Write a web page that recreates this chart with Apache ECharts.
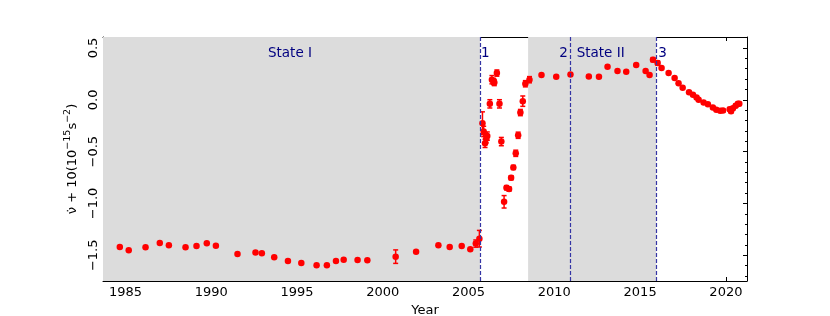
<!DOCTYPE html>
<html><head><meta charset="utf-8">
<script src="https://cdn.jsdelivr.net/npm/echarts@6/dist/echarts.min.js"></script>
<style>html,body{margin:0;padding:0;background:#fff}#c{width:830px;height:316px}</style>
</head><body><div id="c"></div>
<script>
// ---- data ----
const years = [
  1984.67,1985.19,1986.17,1987.00,1987.53,1988.50,1989.14,1989.74,1990.27,1991.53,
  1992.58,1992.95,1993.67,1994.47,1995.25,1996.14,1996.74,1997.27,1997.72,1998.53,
  1999.10,2000.75,2001.94,2003.24,2003.90,2004.60,2005.10,2005.42,2005.63,
  2005.81,2005.88,2005.96,2006.03,2006.09,2006.24,2006.36,2006.45,2006.50,2006.65,
  2006.80,2006.91,2007.07,2007.21,2007.36,2007.48,2007.61,2007.75,2007.89,2008.02,
  2008.16,2008.31,2008.55,2009.25,2010.11,2010.94,2012.01,2012.60,2013.10,2013.68,
  2014.19,2014.77,2015.32,2015.55,2015.75,2016.02,2016.25,2016.66,2017.01,2017.24,
  2017.48,2017.85,2018.08,2018.29,2018.41,2018.70,2018.95,2019.24,2019.44,2019.67,
  2019.83,2020.22,2020.30,2020.41,2020.57,2020.70,2020.78
];
const values = [
  -1.420,-1.452,-1.423,-1.381,-1.403,-1.423,-1.410,-1.384,-1.407,-1.487,
  -1.474,-1.481,-1.519,-1.555,-1.574,-1.597,-1.597,-1.555,-1.542,-1.545,
  -1.548,-1.513,-1.465,-1.403,-1.420,-1.410,-1.442,-1.387,-1.340,
  -0.226,-0.305,-0.420,-0.375,-0.350,-0.039,0.194,0.177,0.167,0.258,
  -0.039,-0.403,-0.984,-0.848,-0.861,-0.752,-0.652,-0.516,-0.342,-0.123,
  -0.013,0.155,0.194,0.239,0.223,0.245,0.226,0.223,0.319,0.277,
  0.271,0.335,0.277,0.239,0.387,0.355,0.306,0.258,0.210,0.161,
  0.116,0.074,0.048,0.023,0.000,-0.026,-0.042,-0.074,-0.097,-0.106,
  -0.103,-0.090,-0.110,-0.081,-0.058,-0.039,-0.039
];
const errors = [
  0,0,0,0,0,0,0,0,0,0,
  0,0,0,0,0,0,0,0,0,0,
  0,0.065,0,0,0,0,0,0.035,0.08,
  0.11,0.05,0.04,0.04,0.04,0.04,0.04,0.03,0.03,0.03,
  0.04,0.04,0.06,0.02,0.02,0.02,0.02,0.03,0.03,0.03,
  0.05,0.03,0.03,0.01,0,0,0,0,0,0,
  0,0,0,0,0.02,0.02,0,0,0,0,
  0,0,0,0,0,0,0,0,0,0.015,
  0.015,0.015,0.015,0.015,0.015,0.015,0.015
];
const xTicks = [1985,1990,1995,2000,2005,2010,2015,2020];
const yTicks = [-1.5,-1.0,-0.5,0.0,0.5];
const yMinorTicks = [-1.7,-1.6,-1.4,-1.3,-1.2,-1.1,-0.9,-0.8,-0.7,-0.6,-0.4,-0.3,-0.2,-0.1,0.1,0.2,0.3,0.4,0.6];
const shadedSpans = [[1983.69, 2005.67],[2008.47, 2015.94]];
const eventYears = [2005.67, 2010.90, 2015.94];
const annotationTexts = ['State I','1','2','State II','3'];
const annotationX = [1994.59, 2005.98, 2010.53, 2012.70, 2016.30];
const annotationY = 0.45;

// ---- chart ----
const FONT = 'DejaVu Sans';
const X_MIN = 1983.69, X_MAX = 2021.23, Y_MIN = -1.748, Y_MAX = 0.606;
const fmtY = v => (v < 0 ? '\u2212' : '') + Math.abs(v).toFixed(1);

const baseX = {
  type:'value', min:X_MIN, max:X_MAX, splitLine:{show:false},
  axisLine:{show:true, onZero:false, lineStyle:{color:'#000', width:1}},
  axisTick:{show:true, inside:true, length:4, customValues:xTicks, lineStyle:{color:'#000'}},
};
const baseY = {
  type:'value', min:Y_MIN, max:Y_MAX, splitLine:{show:false},
  axisLine:{show:true, onZero:false, lineStyle:{color:'#000', width:1}},
};

const chart = echarts.init(document.getElementById('c'), null, {renderer:'canvas'});
chart.setOption({
  animation:false,
  backgroundColor:'#fff',
  textStyle:{fontFamily:FONT},
  grid:{left:103, right:83, top:37, bottom:35, containLabel:false, outerBoundsMode:'none'},
  xAxis:[
    Object.assign({}, baseX, {
      position:'bottom', name:'Year', nameLocation:'middle', nameGap:20,
      nameTextStyle:{fontFamily:FONT, fontSize:13, color:'#000'},
      axisLabel:{show:true, customValues:xTicks, margin:5, fontFamily:FONT, fontSize:13, color:'#000', formatter:v=>String(v)}
    }),
    Object.assign({}, baseX, {position:'top', axisLabel:{show:false}})
  ],
  yAxis:[
    Object.assign({}, baseY, {
      position:'left',
      name:'{n|\u03BD\u0307 + 10(10}{s|\u221215}{n|s}{s|\u22122}{n|)}',
      nameLocation:'middle', nameGap:12, nameRotate:90,
      nameTextStyle:{fontFamily:FONT, fontSize:13, color:'#000',
        rich:{
          n:{fontFamily:FONT, fontSize:13, color:'#000', lineHeight:17, verticalAlign:'bottom'},
          s:{fontFamily:FONT, fontSize:9.5, color:'#000', lineHeight:17, verticalAlign:'top'}
        }},
      axisTick:{show:true, inside:true, length:4, customValues:yTicks, lineStyle:{color:'#000'}},
      axisLabel:{show:true, customValues:yTicks, rotate:90, margin:3, fontFamily:FONT, fontSize:13, color:'#000', formatter:fmtY}
    }),
    Object.assign({}, baseY, {
      position:'left', axisLine:{show:false, onZero:false},
      axisTick:{show:true, inside:true, length:2, customValues:yMinorTicks, lineStyle:{color:'#000'}},
      axisLabel:{show:false}
    }),
    Object.assign({}, baseY, {
      position:'right',
      axisTick:{show:true, inside:true, length:4, customValues:yTicks, lineStyle:{color:'#000'}},
      axisLabel:{show:false}
    }),
    Object.assign({}, baseY, {
      position:'right', axisLine:{show:false, onZero:false},
      axisTick:{show:true, inside:true, length:2, customValues:yMinorTicks, lineStyle:{color:'#000'}},
      axisLabel:{show:false}
    })
  ],
  series:[
    {
      type:'scatter', data:[], z:1, silent:true,
      markArea:{silent:true, itemStyle:{color:'#dcdcdc'},
        data: shadedSpans.map(s => [{xAxis:s[0]},{xAxis:s[1]}])}
    },
    {
      type:'scatter', data:[], z:2, silent:true,
      markLine:{silent:true, symbol:['none','none'], label:{show:false},
        lineStyle:{color:'#3535a5', width:1.2, type:[4,2]},
        data: eventYears.map(x => ({xAxis:x}))},
      markPoint:{silent:true, symbol:'circle', symbolSize:1, itemStyle:{color:'rgba(0,0,0,0)'},
        label:{show:true, position:'inside', color:'#000080', fontFamily:FONT, fontSize:13.5},
        data: annotationTexts.map((t,i) => ({coord:[annotationX[i], annotationY], value:t, label:{formatter:t}}))}
    },
    {
      type:'custom', z:3, clip:true,
      data: years.map((x,i) => [x, values[i], errors[i]]),
      renderItem:(params, api) => {
        const x = api.value(0), y = api.value(1), e = api.value(2);
        if (!e) return null;
        const t = api.coord([x, y + e]), b = api.coord([x, y - e]);
        const w = 2.5, st = {stroke:'red', lineWidth:1.5};
        return {type:'group', children:[
          {type:'line', shape:{x1:t[0], y1:t[1], x2:b[0], y2:b[1]}, style:st},
          {type:'line', shape:{x1:t[0]-w, y1:t[1], x2:t[0]+w, y2:t[1]}, style:st},
          {type:'line', shape:{x1:b[0]-w, y1:b[1], x2:b[0]+w, y2:b[1]}, style:st}
        ]};
      }
    },
    {
      type:'scatter', z:4, symbol:'circle', symbolSize:6.5,
      itemStyle:{color:'red', opacity:1},
      data: years.map((x,i) => [x, values[i]])
    }
  ]
});
</script></body></html>
